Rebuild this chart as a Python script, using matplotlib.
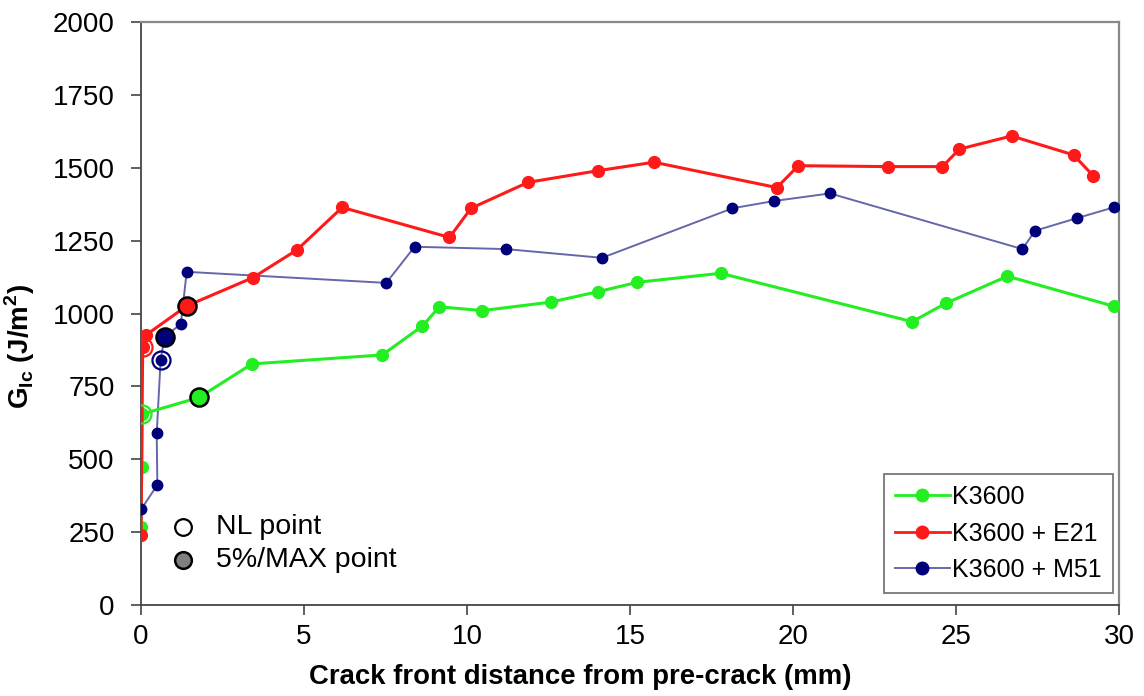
import numpy as np
import matplotlib
matplotlib.use("Agg")
import matplotlib.pyplot as plt
from matplotlib.lines import Line2D

plt.rcParams['font.family'] = ['Liberation Sans', 'DejaVu Sans']
plt.rcParams['mathtext.fontset'] = 'custom'
plt.rcParams['mathtext.rm'] = 'Liberation Sans:bold'
plt.rcParams['mathtext.bf'] = 'Liberation Sans:bold'

# K3600
x_k = [0.0, 0.02, 0.03, 1.78, 3.4, 7.4, 8.63, 9.15, 10.47, 12.56, 14.02, 15.22,
       17.78, 23.65, 24.7, 26.57, 29.83]
y_k = [269, 475, 655, 712, 827, 858, 957, 1023, 1010, 1039, 1075, 1107,
       1138, 972, 1036, 1128, 1025]

# K3600 + E21
x_e = [0.0, 0.05, 0.15, 1.40, 3.43, 4.78, 6.17, 9.46, 10.12, 11.87, 14.02,
       15.73, 19.5, 20.16, 22.9, 24.58, 25.1, 26.7, 28.6, 29.2]
y_e = [240, 886, 926, 1026, 1123, 1218, 1364, 1261, 1361, 1450, 1490,
       1519, 1432, 1507, 1504, 1504, 1564, 1609, 1544, 1473]

# K3600 + M51
x_m = [0.0, 0.5, 0.48, 0.6, 0.72, 1.22, 1.40, 7.52, 8.39, 11.19, 14.14,
       18.14, 19.42, 21.13, 27.03, 27.42, 28.7, 29.83]
y_m = [328, 412, 589, 840, 920, 964, 1143, 1105, 1229, 1221, 1191,
       1361, 1386, 1412, 1221, 1284, 1327, 1364]

# NL points and 5%/MAX points (x, y) per series
nl_pts = {"K3600": (0.03, 655), "K3600 + E21": (0.05, 886), "K3600 + M51": (0.6, 840)}
max_pts = {"K3600": (1.78, 712), "K3600 + E21": (1.40, 1026), "K3600 + M51": (0.72, 920)}

green = "#22ee22"
red = "#ff1a1a"
navy = "#00007a"
blue_line = "#6666aa"

fig = plt.figure(figsize=(11.44, 6.96), dpi=100)
ax = fig.add_axes([0.1233, 0.1307, 0.8550, 0.8377])

ax.plot(x_k, y_k, "-o", color=green, lw=2.2, ms=8.5, mec=green, label="K3600", zorder=3)
ax.plot(x_e, y_e, "-o", color=red, lw=2.2, ms=8.5, mec=red, label="K3600 + E21", zorder=3)
ax.plot(x_m, y_m, "-", color=blue_line, lw=1.4, zorder=2)
ax.plot(x_m, y_m, "o", color=navy, ms=7.5, mec=navy, zorder=4)

cols = {"K3600": green, "K3600 + E21": red, "K3600 + M51": navy}
for k, (px, py) in nl_pts.items():
    ax.plot(px, py, "o", ms=13, mfc="none", mec=cols[k], mew=1.6, zorder=5)
for k, (px, py) in max_pts.items():
    ax.plot(px, py, "o", ms=13, mfc=cols[k], mec="black", mew=1.8, zorder=6)

ax.set_xlim(0, 30)
ax.set_ylim(0, 2000)
ax.set_xticks(np.arange(0, 31, 5))
ax.set_yticks(np.arange(0, 2001, 250))
ax.tick_params(axis="both", direction="out", length=7, width=1.2, labelsize=20,
               color="#444444")
ax.tick_params(axis="x", pad=7)
ax.tick_params(axis="y", pad=12)

for s in ["left", "bottom"]:
    ax.spines[s].set_color("#444444")
    ax.spines[s].set_linewidth(1.3)
for s in ["top", "right"]:
    ax.spines[s].set_color("#888888")
    ax.spines[s].set_linewidth(1.6)

ax.set_xlabel("Crack front distance from pre-crack (mm)", fontsize=19.8,
              fontweight="bold")
ax.xaxis.set_label_coords(0.449, -0.101)
ax.set_ylabel(r"G$_{\mathrm{Ic}}$ (J/m$^{\mathrm{2}}$)", fontsize=20,
              fontweight="bold")
ax.yaxis.set_label_coords(-0.106, 0.444)

handles = [
    Line2D([], [], color=green, lw=2, marker="o", ms=9, mec=green),
    Line2D([], [], color=red, lw=2, marker="o", ms=9, mec=red),
    Line2D([], [], color=blue_line, lw=1.4, marker="o", ms=9, mfc=navy, mec=navy),
]
leg = ax.legend(handles, ["K3600", "K3600 + E21", "K3600 + M51"],
                loc="lower right", bbox_to_anchor=(0.994, 0.02), fontsize=18,
                frameon=True, fancybox=False, handlelength=2.2, handletextpad=0.1,
                borderpad=0.45, labelspacing=0.5, borderaxespad=0)
leg.get_frame().set_edgecolor("#555555")
leg.get_frame().set_linewidth(1.3)

# NL / 5%/MAX key
ax.plot(1.3, 268, "o", ms=12, mfc="white", mec="black", mew=1.6, zorder=6)
ax.plot(1.3, 155, "o", ms=12, mfc="#808080", mec="black", mew=1.8, zorder=6)
ax.text(2.3, 268, "NL point", fontsize=20.5, va="center", ha="left")
ax.text(2.3, 155, "5%/MAX point", fontsize=20.5, va="center", ha="left")

fig.savefig("out.png", dpi=100)
